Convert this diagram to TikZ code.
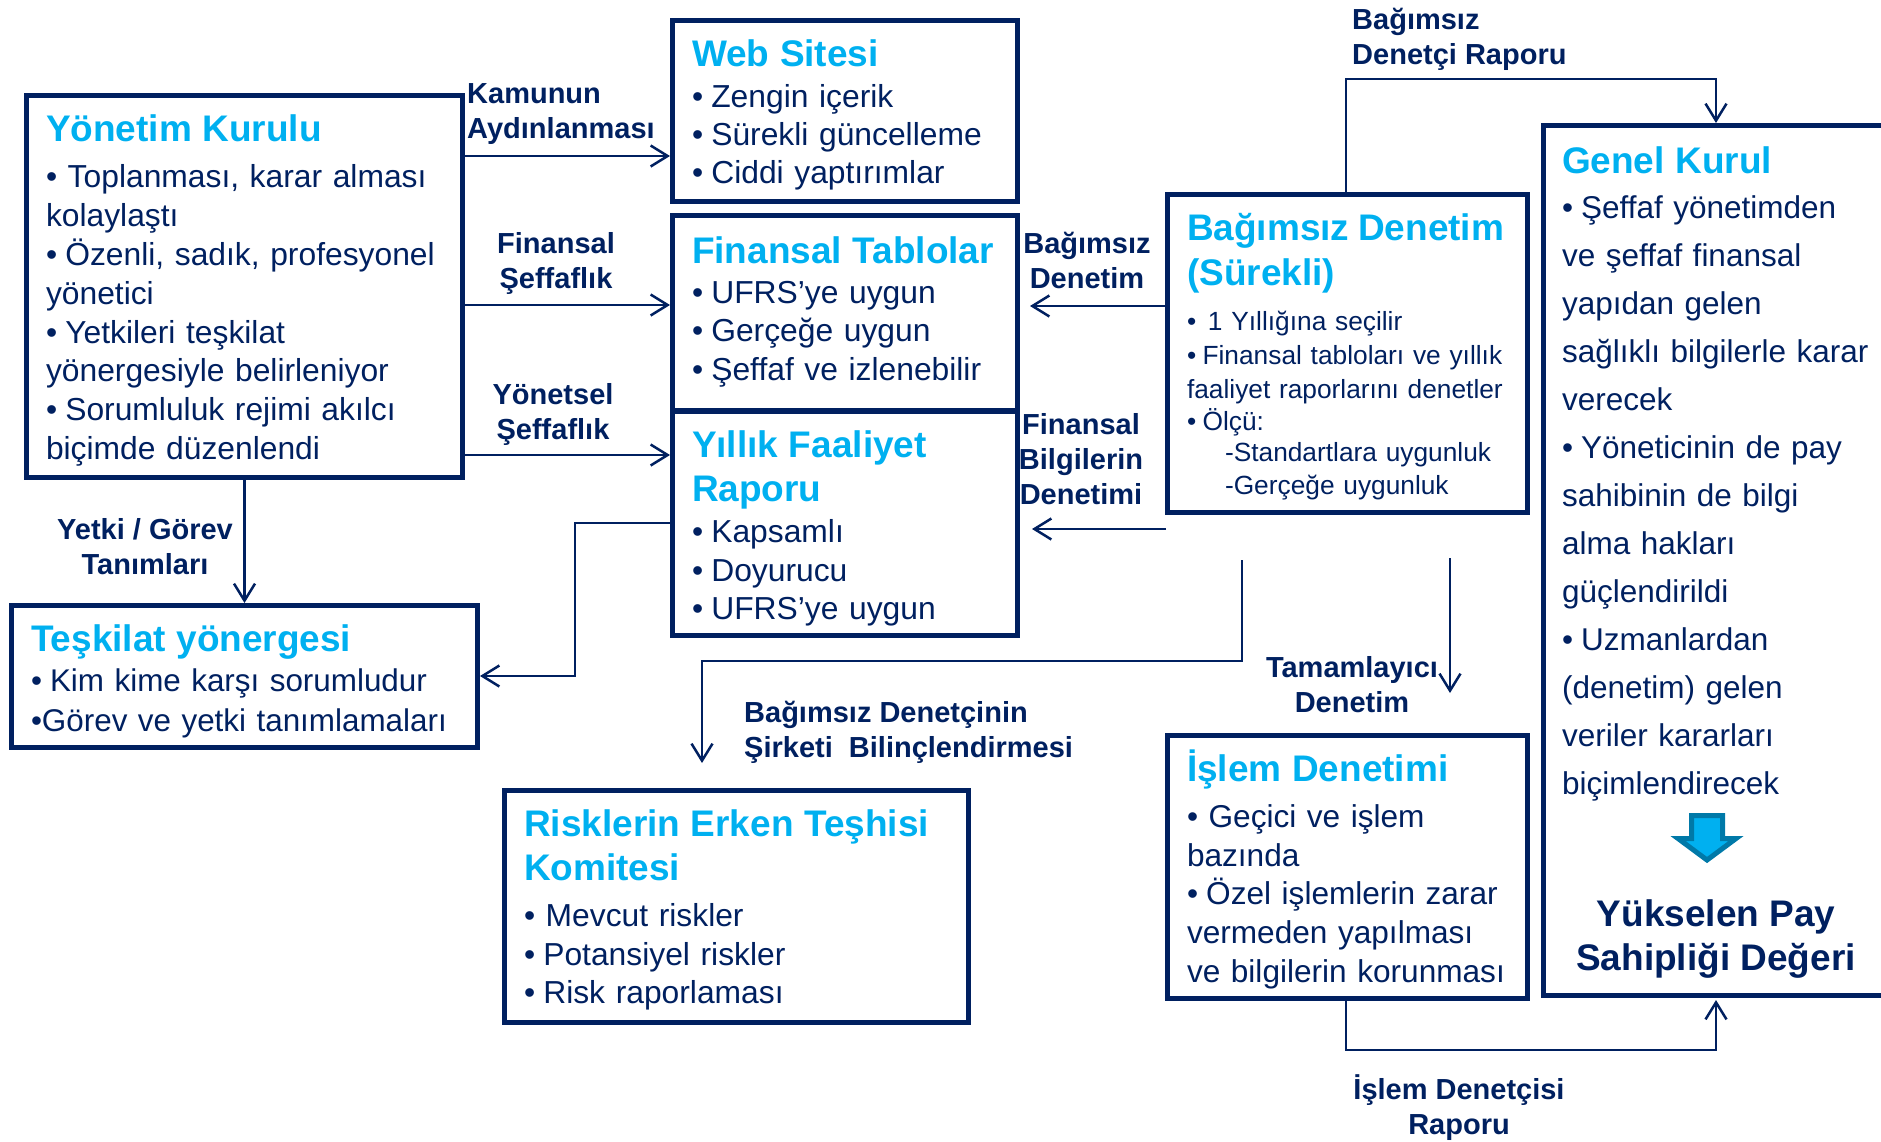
\documentclass[tikz,border=0pt]{standalone}
\usepackage{fontspec}
\usetikzlibrary{arrows.meta}
\setmainfont{Liberation Sans}
\definecolor{navy}{HTML}{002060}
\definecolor{sky}{HTML}{00B0F0}
\definecolor{skyedge}{HTML}{0079A8}
\newcommand{\ttl}[1]{{\fontsize{37}{44}\selectfont\bfseries\color{sky}#1}}
\newcommand{\bul}{•\hspace{-2.4pt} }
\begin{document}
\begin{tikzpicture}[x=1pt,y=-1pt,
        panel/.style={draw=navy, line width=5pt, anchor=north west, align=left, text=navy, inner xsep=19.5pt, inner ysep=0pt, text height=46pt, font=\fontsize{31.8}{38.2}\selectfont},
        tag/.style={text=navy, align=center, inner sep=0pt, font=\fontsize{29}{35}\selectfont\bfseries},
        link/.style={draw=navy, line width=2.5pt, -{Straight Barb[length=17pt,width=21pt,line width=2.5pt]}}]
    \useasboundingbox (0,0) rectangle (1881,1141);
    \node[panel, text width=397pt, text depth=336pt, font=\fontsize{31.8}{38.8}\selectfont] (yonetim) at (24,93) {\ttl{Yönetim Kurulu}\\[7.5pt]• Toplanması, karar alması\\kolaylaştı\\\bul Özenli, sadık, profesyonel\\yönetici\\\bul Yetkileri teşkilat\\yönergesiyle belirleniyor\\\bul Sorumluluk rejimi akılcı\\biçimde düzenlendi};
    \node[panel, text width=306pt, text depth=135pt] (web) at (670,18) {\ttl{Web Sitesi}\\[2.5pt]\bul Zengin içerik\\\bul Sürekli güncelleme\\\bul Ciddi yaptırımlar};
    \node[panel, text width=306pt, text height=48pt, text depth=147pt] (finans) at (670,213) {\ttl{Finansal Tablolar}\\[2pt]\bul UFRS’ye uygun\\\bul Gerçeğe uygun\\\bul Şeffaf ve izlenebilir};
    \node[panel, text width=306pt, text depth=178pt] (yillik) at (670,409) {\ttl{Yıllık Faaliyet}\\[5.5pt]\ttl{Raporu}\\[3.5pt]\bul Kapsamlı\\\bul Doyurucu\\\bul UFRS’ye uygun};
    \node[panel, text width=427pt, text depth=96pt, font=\fontsize{31.4}{39.6}\selectfont] (teskilat) at (9,603) {\ttl{Teşkilat yönergesi}\\[0.5pt]\bul Kim kime karşı sorumludur\\•Görev ve yetki tanımlamaları};
    \node[panel, text width=425pt, text depth=186pt] (risk) at (502,788) {\ttl{Risklerin Erken Teşhisi}\\[5.5pt]\ttl{Komitesi}\\[8.5pt]• Mevcut riskler\\\bul Potansiyel riskler\\\bul Risk raporlaması};
    \node[panel, text width=321pt, text depth=272pt, font=\fontsize{26.3}{32.5}\selectfont] (denetim) at (1165,192) {\ttl{Bağımsız Denetim}\\[9.5pt]\ttl{(Sürekli)}\\[12pt]•\hspace{3pt} 1 Yıllığına seçilir\\[2.3pt]\bul Finansal tabloları ve yıllık\\[1pt]faaliyet raporlarını denetler\\\bul Ölçü:\\[-1.5pt]\hspace*{38pt}-Standartlara uygunluk\\\hspace*{38pt}-Gerçeğe uygunluk};
    \node[panel, text width=321pt, text depth=217pt, font=\fontsize{31.6}{38.8}\selectfont] (islem) at (1165,733) {\ttl{İşlem Denetimi}\\[7pt]• Geçici ve işlem\\bazında\\\bul Özel işlemlerin zarar\\vermeden yapılması\\ve bilgilerin korunması};
    \node[panel, draw=none, text width=312pt, inner xsep=0pt, text height=48pt, text depth=824pt, font=\fontsize{31.5}{48}\selectfont] (genel) at (1559.5,123) {\ttl{Genel Kurul}\\[-3.5pt]\bul Şeffaf yönetimden\\ve şeffaf finansal\\yapıdan gelen\\sağlıklı bilgilerle karar\\verecek\\\bul Yöneticinin de pay\\sahibinin de bilgi\\alma hakları\\güçlendirildi\\\bul Uzmanlardan\\(denetim) gelen\\veriler kararları\\biçimlendirecek};
    \draw[draw=navy, line width=5pt] (1881,125.5) -- (1543,125.5) -- (1543,995.5) -- (1881,995.5);
    \node[text=navy, align=center, inner sep=0pt, font=\fontsize{37}{44.4}\selectfont\bfseries] (deger) at (1716,939) {Yükselen Pay\\Sahipliği Değeri};
    \draw[draw=skyedge, fill=sky, line width=5pt, line join=miter] (1691.5,815.5) -- (1722.5,815.5) -- (1722.5,838.5) -- (1736,838.5) -- (1707,860) -- (1678,838.5) -- (1691.5,838.5) -- cycle;
    \node[tag, anchor=west, align=left] (kamu) at (467,114.5) {Kamunun\\Aydınlanması};
    \node[tag] (fseffaf) at (556,263) {Finansal\\Şeffaflık};
    \node[tag] (yseffaf) at (553,414) {Yönetsel\\Şeffaflık};
    \node[tag] (yetki) at (145,547) {Yetki / Görev\\Tanımları};
    \node[tag] (bdenetim) at (1087,260) {Bağımsız\\Denetim};
    \node[tag] (fbilgi) at (1081,459) {Finansal\\Bilgilerin\\Denetimi};
    \node[tag, anchor=west, align=left] (bilinc) at (744,732.5) {Bağımsız Denetçinin\\Şirketi~~Bilinçlendirmesi};
    \node[tag] (tamam) at (1352,685) {Tamamlayıcı\\Denetim};
    \node[tag, anchor=west, align=left] (brapor) at (1352,39.5) {Bağımsız\\Denetçi Raporu};
    \node[tag] (irapor) at (1459,1108) {İşlem Denetçisi\\Raporu};
    \coordinate (ucfin) at (1030,306);
    \coordinate (bas1) at (1166,529);
    \coordinate (uc1) at (1032,529);
    \coordinate (bas2) at (1450,558);
    \coordinate (uc2) at (1450,693);
    \coordinate (bas3) at (1242,560);
    \coordinate (uc3) at (702,763);
    \draw[link] (yonetim.east |- 0,156) -- (web.west |- 0,156);
    \draw[link] (yonetim.east |- 0,305) -- (finans.west |- 0,305);
    \draw[link] (yonetim.east |- 0,455) -- (yillik.west |- 0,455);
    \draw[link] (yonetim.south) -- (teskilat.north -| yonetim.south);
    \draw[link] (yillik.west |- 0,523) -- (575,523) -- (575,676) -- (teskilat.east |- 0,676);
    \draw[link] (denetim.west |- ucfin) -- (ucfin);
    \draw[link] (bas1) -- (uc1);
    \draw[link] (bas2) -- (uc2);
    \draw[link] (bas3) -- (1242,661) -- (702,661) -- (uc3);
    \draw[link] (denetim.north -| 1346,0) -- (1346,79) -- (1716,79) -- (genel.north -| 1716,0);
    \draw[link] (islem.south -| 1346,0) -- (1346,1050) -- (1716,1050) -- (genel.south -| 1716,0);
\end{tikzpicture}
\end{document}
